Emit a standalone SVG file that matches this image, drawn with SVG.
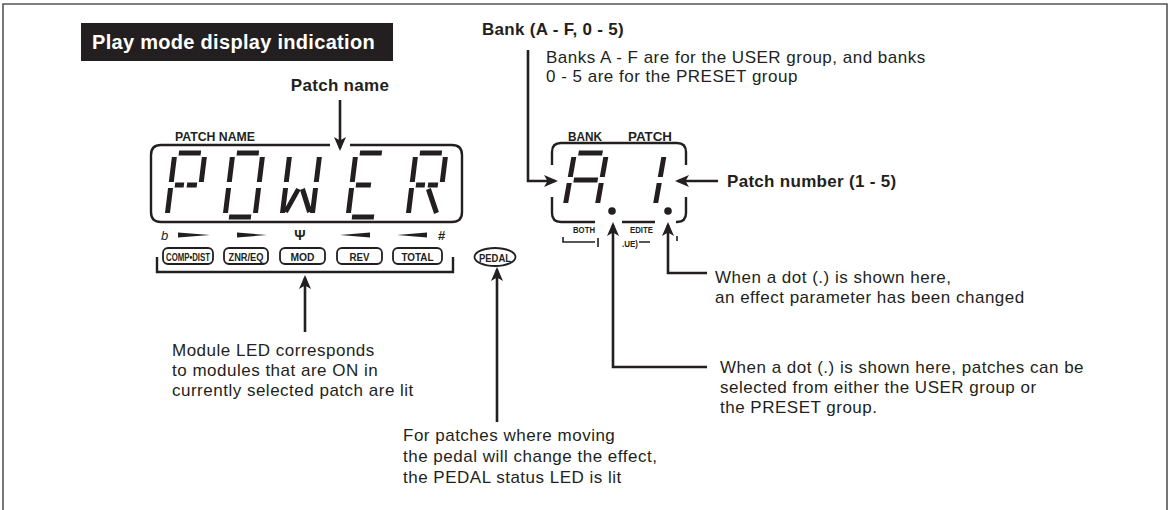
<svg xmlns="http://www.w3.org/2000/svg" width="1171" height="510" viewBox="0 0 1171 510">
<defs>
<style>
.reg{font-family:"Liberation Sans",Arial,sans-serif;font-size:17px;letter-spacing:0.5px;fill:#231f20}
.bld{font-family:"Liberation Sans",Arial,sans-serif;font-size:17px;font-weight:bold;letter-spacing:0.3px;fill:#231f20}
.cnd{font-family:"Liberation Sans",Arial,sans-serif;font-weight:bold;fill:#231f20}
.seg{fill:none;stroke:#231f20;stroke-width:5;stroke-linecap:butt}
.ln{fill:none;stroke:#231f20;stroke-width:2.4}
.thin{fill:none;stroke:#231f20;stroke-width:1.6}
.btn{fill:#fff;stroke:#231f20;stroke-width:1.8}
.con{fill:none;stroke:#231f20;stroke-width:2.6}
.wedge{fill:#231f20}
</style>
<marker id="ah" markerUnits="userSpaceOnUse" markerWidth="14" markerHeight="12" viewBox="0 0 14 12" refX="11" refY="6" orient="auto">
<path d="M0,0 L14,6 L0,12 L3.5,6 z" fill="#231f20"/>
</marker>
</defs>
<rect width="1171" height="510" fill="#fff"/>
<path d="M3,512 V4 H1167 V512" fill="none" stroke="#555" stroke-width="1.6"/>

<g id="header">
<rect x="81" y="23" width="312" height="38" fill="#231f20"/>
<text x="92" y="49" class="bld" style="font-size:20px;fill:#fff">Play mode display indication</text>
</g>

<g id="patch-name-label">
<text x="340" y="91" class="bld" text-anchor="middle">Patch name</text>
</g>

<g id="patch-name-display">
<text x="175" y="141" class="cnd" style="font-size:12.5px" textLength="80" lengthAdjust="spacingAndGlyphs">PATCH NAME</text>
<path class="ln" d="M330,145 H161 Q151,145 151,155 V212 Q151,222 161,222 H452 Q462,222 462,212 V155 Q462,145 452,145 H350"/>
<g transform="translate(167,217) skewX(-7)">
<path class="seg" d="M4,-64 H26 M30,-60 V-35 M0,-60 V-35 M0,-29 V-4 M4,-32 H13 M16,-32 H26"/>
</g>
<g transform="translate(225,217) skewX(-7)">
<path class="seg" d="M4,-64 H26 M30,-60 V-35 M30,-29 V-4 M4,0 H26 M0,-29 V-4 M0,-60 V-35"/>
</g>
<g transform="translate(282,217) skewX(-7)">
<path class="seg" d="M30,-60 V-35 M30,-29 V-4 M0,-29 V-4 M0,-60 V-35 M13,-28 L3,-5 M17,-28 L27,-5"/>
</g>
<g transform="translate(348,217) skewX(-7)">
<path class="seg" d="M4,-64 H26 M4,0 H26 M0,-29 V-4 M0,-60 V-35 M4,-32 H19"/>
</g>
<g transform="translate(408,217) skewX(-7)">
<path class="seg" d="M4,-64 H26 M30,-60 V-35 M0,-60 V-35 M0,-29 V-4 M4,-32 H13 M16,-32 H26 M17,-28 L28,-4"/>
</g>
</g>

<g id="module-leds">
<text x="161" y="240" class="reg" style="font-size:13px;font-style:italic;letter-spacing:0">b</text>
<path class="wedge" d="M178,232.5 L210,235 L178,237.5 z"/>
<path class="wedge" d="M237,232.5 L267,235 L237,237.5 z"/>
<text x="300" y="240" class="cnd" style="font-size:14px" text-anchor="middle" font-family="DejaVu Sans">Ψ</text>
<path class="wedge" d="M370,232.5 L340,235 L370,237.5 z"/>
<path class="wedge" d="M427,232.5 L397,235 L427,237.5 z"/>
<text x="438" y="240" class="cnd" style="font-size:13px">#</text>
<rect class="btn" x="163" y="248" width="50" height="16" rx="5"/>
<text x="188" y="260.5" class="cnd" style="font-size:11.5px" text-anchor="middle" textLength="44" lengthAdjust="spacingAndGlyphs">COMP•DIST</text>
<rect class="btn" x="224" y="248" width="44" height="16" rx="5"/>
<text x="246" y="260.5" class="cnd" style="font-size:11.5px" text-anchor="middle" textLength="35" lengthAdjust="spacingAndGlyphs">ZNR/EQ</text>
<rect class="btn" x="280" y="248" width="45" height="16" rx="5"/>
<text x="302.5" y="260.5" class="cnd" style="font-size:11.5px" text-anchor="middle" textLength="24" lengthAdjust="spacingAndGlyphs">MOD</text>
<rect class="btn" x="337" y="248" width="45" height="16" rx="5"/>
<text x="359.5" y="260.5" class="cnd" style="font-size:11.5px" text-anchor="middle" textLength="20" lengthAdjust="spacingAndGlyphs">REV</text>
<rect class="btn" x="393" y="248" width="49" height="16" rx="5"/>
<text x="417.5" y="260.5" class="cnd" style="font-size:11.5px" text-anchor="middle" textLength="32" lengthAdjust="spacingAndGlyphs">TOTAL</text>
<path class="ln" d="M157,257 V272 H453 V257"/>
</g>

<g id="pedal-led">
<ellipse cx="495" cy="257" rx="20.5" ry="9" fill="#fff" stroke="#231f20" stroke-width="1.8"/>
<text x="495" y="261.5" class="cnd" style="font-size:11.5px" text-anchor="middle" textLength="32" lengthAdjust="spacingAndGlyphs">PEDAL</text>
</g>

<g id="bank-display">
<text x="568" y="141" class="cnd" style="font-size:12.5px" textLength="34" lengthAdjust="spacingAndGlyphs">BANK</text>
<text x="628" y="141" class="cnd" style="font-size:12.5px" textLength="44" lengthAdjust="spacingAndGlyphs">PATCH</text>
<path class="ln" d="M552,165 V152 Q552,143 561,143 H677 Q686,143 686,152 V165"/>
<path class="ln" d="M552,197 V213 Q552,222 561,222 H595"/>
<path class="ln" d="M622,222 H655"/>
<path class="ln" d="M686,197 V213 Q686,222 677,222 H676"/>
<g transform="translate(565,207) skewX(-10)">
<path class="seg" d="M4,-54 H28 M32,-50 V-30 M32,-24 V-4 M0,-24 V-4 M0,-50 V-30 M4,-27 H28"/>
</g>
<g transform="translate(623,207) skewX(-10)">
<path class="seg" d="M32,-50 V-30 M32,-24 V-4"/>
</g>
<circle cx="612" cy="211" r="3.8" fill="#231f20"/>
<circle cx="668" cy="211" r="3.8" fill="#231f20"/>
<text x="573" y="233" class="cnd" style="font-size:8.5px" textLength="22" lengthAdjust="spacingAndGlyphs">BOTH</text>
<text x="630" y="233" class="cnd" style="font-size:8.5px" textLength="23" lengthAdjust="spacingAndGlyphs">EDITE</text>
<text x="622" y="247" class="cnd" style="font-size:9.5px" textLength="16" lengthAdjust="spacingAndGlyphs">.UE)</text>
<path class="thin" d="M563,237 V242 H595 M598,238 V247 M639,242 H650 M677,236 V241"/>
</g>

<g id="bank-label">
<text x="482" y="35" class="bld">Bank (A - F, 0 - 5)</text>
<text x="546" y="63" class="reg">Banks A - F are for the USER group, and banks</text>
<text x="546" y="82" class="reg">0 - 5 are for the PRESET group</text>
</g>

<g id="patch-number-label">
<text x="727" y="187" class="bld">Patch number (1 - 5)</text>
</g>

<g id="edited-note">
<text x="715" y="283" class="reg">When a dot (.) is shown here,</text>
<text x="715" y="303" class="reg">an effect parameter has been changed</text>
</g>

<g id="both-note">
<text x="720" y="373" class="reg">When a dot (.) is shown here, patches can be</text>
<text x="720" y="393" class="reg">selected from either the USER group or</text>
<text x="720" y="413" class="reg">the PRESET group.</text>
</g>

<g id="module-note">
<text x="172" y="356" class="reg">Module LED corresponds</text>
<text x="172" y="376" class="reg">to modules that are ON in</text>
<text x="172" y="396" class="reg">currently selected patch are lit</text>
</g>

<g id="pedal-note">
<text x="403" y="441" class="reg">For patches where moving</text>
<text x="403" y="462" class="reg">the pedal will change the effect,</text>
<text x="403" y="483" class="reg">the PEDAL status LED is lit</text>
</g>

<g id="connectors">
<path class="con" d="M340,100 V148" marker-end="url(#ah)"/>
<path class="con" d="M528,50 V181 H555" marker-end="url(#ah)"/>
<path class="con" d="M718,181 H678" marker-end="url(#ah)"/>
<path class="con" d="M707,367 H613 V225" marker-end="url(#ah)"/>
<path class="con" d="M707,273 H668 V225" marker-end="url(#ah)"/>
<path class="con" d="M305,332 V278" marker-end="url(#ah)"/>
<path class="con" d="M497,422 V270" marker-end="url(#ah)"/>
</g>
</svg>
